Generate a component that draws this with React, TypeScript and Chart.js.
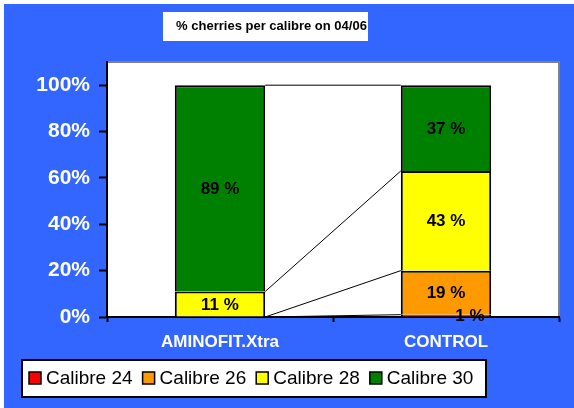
import React, { useEffect, useRef } from "react";
import { Chart, registerables } from "chart.js";

Chart.register(...registerables);

const categories = ["AMINOFIT.Xtra", "CONTROL"];
const seriesNames = ["Calibre 24", "Calibre 26", "Calibre 28", "Calibre 30"];
const calibre24 = [0, 1];
const calibre26 = [0, 19];
const calibre28 = [11, 43];
const calibre30 = [89, 37];
const yTicks = [0, 20, 40, 60, 80, 100];
const chartTitle = "% cherries per calibre on 04/06";

const colors = ["#FF0000", "#FF9900", "#FFFF00", "#008000"];
const FONT = "'Liberation Sans', Arial, Helvetica, sans-serif";

const decorPlugin = {
  id: "decor",
  beforeDraw(chart: any) {
    const { ctx, chartArea: a } = chart;
    ctx.save();
    ctx.fillStyle = "#FFFFFF";
    ctx.fillRect(0, 0, chart.width, chart.height);
    ctx.fillStyle = "#3366FF";
    ctx.fillRect(4, 4, chart.width - 4, chart.height - 4);
    // plot area
    ctx.fillStyle = "#FFFFFF";
    ctx.fillRect(a.left, a.top, a.right - a.left, a.bottom - a.top);
    ctx.strokeStyle = "#808080";
    ctx.lineWidth = 2;
    ctx.beginPath();
    ctx.moveTo(a.left, a.top);
    ctx.lineTo(a.right, a.top);
    ctx.lineTo(a.right, a.bottom);
    ctx.stroke();
    // title box
    ctx.fillStyle = "#FFFFFF";
    ctx.fillRect(163, 12, 205, 29);
    ctx.fillStyle = "#000000";
    ctx.font = `bold 13px ${FONT}`;
    ctx.textAlign = "center";
    ctx.textBaseline = "middle";
    ctx.fillText(chartTitle, 271.5, 26);
    // legend
    ctx.fillStyle = "#FFFFFF";
    ctx.fillRect(22, 360, 464, 37);
    ctx.strokeStyle = "#000000";
    ctx.lineWidth = 2;
    ctx.strokeRect(22, 360, 464, 37);
    ctx.font = `19px ${FONT}`;
    ctx.textAlign = "left";
    let x = 29;
    seriesNames.forEach((name, i) => {
      ctx.fillStyle = colors[i];
      ctx.fillRect(x, 372, 12, 12);
      ctx.strokeStyle = "#000000";
      ctx.lineWidth = 1.5;
      ctx.strokeRect(x, 372, 12, 12);
      ctx.fillStyle = "#000000";
      ctx.fillText(name, x + 17, 378.5);
      x += 17 + ctx.measureText(name).width + 10;
    });
    ctx.restore();
  },
  afterDatasetsDraw(chart: any) {
    const { ctx } = chart;
    ctx.save();
    // series lines
    ctx.strokeStyle = "#000000";
    ctx.lineWidth = 1;
    chart.data.datasets.forEach((_: any, i: number) => {
      const meta = chart.getDatasetMeta(i);
      const b0 = meta.data[0];
      const b1 = meta.data[1];
      ctx.beginPath();
      ctx.moveTo(b0.x + b0.width / 2, b0.y);
      ctx.lineTo(b1.x - b1.width / 2, b1.y);
      ctx.stroke();
    });
    // data labels
    ctx.fillStyle = "#000000";
    ctx.font = `bold 17px ${FONT}`;
    ctx.textAlign = "center";
    ctx.textBaseline = "middle";
    chart.data.datasets.forEach((ds: any, i: number) => {
      const meta = chart.getDatasetMeta(i);
      meta.data.forEach((bar: any, j: number) => {
        const v = ds.data[j];
        if (!v) return;
        const cy = (bar.y + bar.base) / 2;
        const cx = v < 5 ? bar.x + 24 : bar.x;
        ctx.fillText(`${v} %`, cx, cy + 1);
      });
    });
    ctx.restore();
  },
};

export default function App() {
  const ref = useRef<HTMLCanvasElement | null>(null);
  useEffect(() => {
    if (!ref.current) return;
    const chart = new Chart(ref.current, {
      type: "bar",
      data: {
        labels: categories,
        datasets: [calibre24, calibre26, calibre28, calibre30].map((d, i) => ({
          label: seriesNames[i],
          data: d,
          backgroundColor: colors[i],
          borderColor: "#000000",
          borderWidth: 2,
          categoryPercentage: 1,
          barPercentage: 0.4,
        })),
      },
      options: {
        responsive: false,
        animation: false,
        layout: { padding: { top: 62, right: 15, left: 0, bottom: 0 } },
        plugins: {
          legend: { display: false },
          title: { display: false },
          tooltip: { enabled: false },
        },
        scales: {
          x: {
            stacked: true,
            offset: true,
            grid: {
              offset: true,
              drawOnChartArea: false,
              drawTicks: true,
              tickLength: 5,
              tickColor: "#000000",
              tickWidth: 2,
            },
            border: { display: true, color: "#000000", width: 2 },
            ticks: {
              color: "#FFFFFF",
              font: { family: FONT, size: 17, weight: "bold" },
              padding: 10,
              maxRotation: 0,
            },
            afterFit(scale: any) {
              scale.height = 91;
            },
          },
          y: {
            stacked: true,
            min: 0,
            max: 110,
            afterBuildTicks(scale: any) {
              scale.ticks = yTicks.map((v) => ({ value: v }));
            },
            grid: {
              drawOnChartArea: false,
              drawTicks: true,
              tickLength: 8,
              tickColor: "#000000",
              tickWidth: 2,
            },
            border: { display: true, color: "#000000", width: 2 },
            ticks: {
              color: "#FFFFFF",
              font: { family: FONT, size: 21, weight: "bold" },
              padding: 9,
              callback: (v: any) => `${v}%`,
            },
            afterFit(scale: any) {
              scale.width = 107;
            },
          },
        },
      },
      plugins: [decorPlugin],
    } as any);
    return () => chart.destroy();
  }, []);
  return (
    <div style={{ position: "absolute", left: 0, top: 0, width: 574, height: 408 }}>
      <canvas ref={ref} width={574} height={408} style={{ width: 574, height: 408, display: "block" }} />
    </div>
  );
}
